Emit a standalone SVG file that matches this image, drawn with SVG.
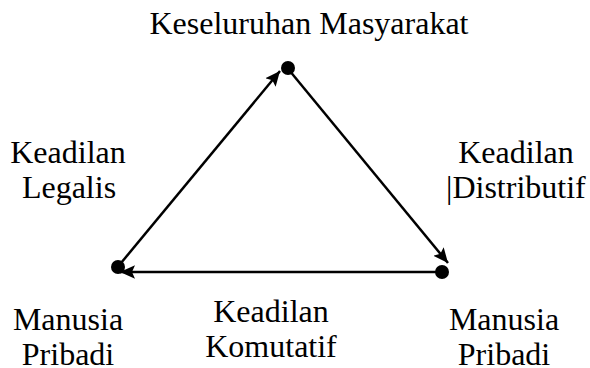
<svg xmlns="http://www.w3.org/2000/svg" width="590" height="368" viewBox="0 0 590 368">
<defs>
<marker id="ah" viewBox="0 0 10 10" refX="10" refY="5" markerWidth="6" markerHeight="6" markerUnits="strokeWidth" orient="auto">
<path d="M0,0.5 L10,5 L0,9.5 L2,5 z" fill="#000"/>
</marker>
<style>
.t{font-family:'Liberation Serif','Times New Roman',serif;font-size:32px;fill:#000}
.m{text-anchor:middle}
.e{stroke:#000;stroke-width:2.5;fill:none;marker-end:url(#ah)}
</style>
</defs>
<rect width="590" height="368" fill="#fff"/>
<g id="connectors">
<path class="e" d="M121,263 L280,71"/>
<path class="e" d="M289,70 L448,263"/>
<path class="e" d="M441,272 L120,272"/>
</g>
<g class="t">
<g id="top"><circle cx="288" cy="68" r="7"/><text class="m" x="309" y="34">Keseluruhan Masyarakat</text></g>
<g id="left"><circle cx="118" cy="267" r="7"/><text class="m" x="68" y="330">Manusia</text><text class="m" x="68" y="365">Pribadi</text></g>
<g id="right"><circle cx="442" cy="272" r="7"/><text class="m" x="504" y="330">Manusia</text><text class="m" x="504" y="365">Pribadi</text></g>
<g id="lbl-legal"><text class="m" x="68" y="163">Keadilan</text><text class="m" x="69" y="198">Legalis</text></g>
<g id="lbl-dist"><text class="m" x="516" y="163">Keadilan</text><text x="446" y="198">|Distributif</text></g>
<g id="lbl-kom"><text class="m" x="271" y="322">Keadilan</text><text class="m" x="271" y="357">Komutatif</text></g>
</g>
</svg>
